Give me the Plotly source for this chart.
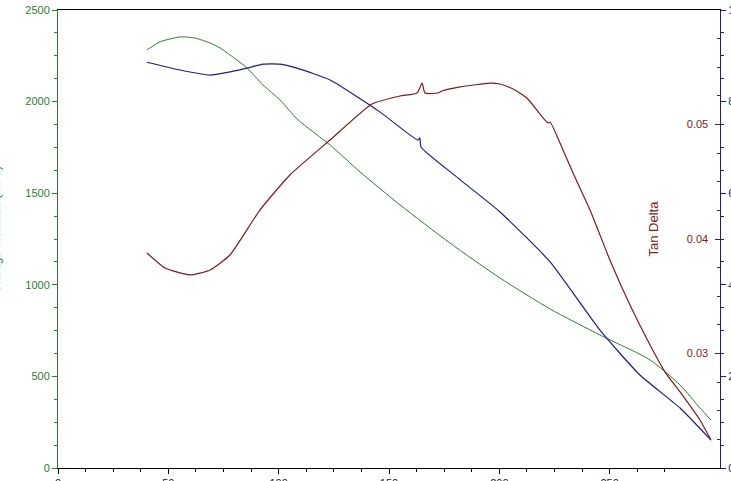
import plotly.graph_objects as go

# Storage modulus (left axis, MPa)
storage_temp = [40.3, 46.2, 55.3, 62.1, 68.9, 73.4, 81.1, 85.6, 92.9, 100.6, 108.8,
                123.3, 136.9, 155.0, 177.6, 200.3, 223.0, 245.6, 268.3, 281.9, 290.9, 295.9]
storage_mod = [2282, 2326, 2353, 2347, 2320, 2293, 2227, 2184, 2091, 2009, 1900,
               1763, 1616, 1436, 1228, 1037, 868, 726, 590, 453, 328, 262]

# Loss modulus (right axis, MPa)
loss_temp = [40.3, 55.3, 68.9, 78.0, 85.6, 92.9, 100.6, 108.3, 123.3, 146.0,
             163.1, 164.0, 164.5, 181.3, 200.3, 223.0, 245.6, 263.7, 281.9, 295.9]
loss_mod = [88.6, 86.9, 85.8, 86.5, 87.3, 88.2, 88.2, 87.3, 84.7, 77.7,
            71.6, 72.1, 70.1, 63.3, 55.9, 45.0, 30.1, 20.3, 13.1, 6.1]

# Tan delta (second right axis)
tan_temp = [40.3, 48.5, 59.8, 68.9, 77.9, 91.5, 105.1, 123.3, 142.3, 155.0, 162.7,
            165.0, 166.3, 172.2, 174.0, 182.2, 195.8, 200.3, 206.2, 212.5, 219.8,
            222.1, 223.0, 227.5, 233.4, 241.1, 250.1, 259.2, 268.3, 275.1, 281.9,
            290.9, 295.9]
tan_delta = [0.03878, 0.03747, 0.03686, 0.03729, 0.0386, 0.04253, 0.04559, 0.04865,
             0.05179, 0.05249, 0.05275, 0.05362, 0.05275, 0.05275, 0.05293, 0.05328,
             0.05362, 0.05354, 0.0531, 0.05231, 0.05057, 0.05013, 0.05022, 0.04838,
             0.04576, 0.04253, 0.03817, 0.03424, 0.03074, 0.02838, 0.02664, 0.02419,
             0.02245]

GREEN = "#2e7d2e"
BLUE = "#1c1c86"
BROWN = "#7a1c1c"
FONT = "Liberation Sans, Arial, sans-serif"

fig = go.Figure()
fig.add_trace(go.Scatter(x=storage_temp, y=storage_mod, mode="lines",
                         line=dict(color=GREEN, width=1, shape="spline", smoothing=0.6),
                         name="Storage Modulus"))
fig.add_trace(go.Scatter(x=loss_temp, y=loss_mod, mode="lines", yaxis="y2",
                         line=dict(color=BLUE, width=1.2, shape="spline", smoothing=0.5),
                         name="Loss Modulus"))
fig.add_trace(go.Scatter(x=tan_temp, y=tan_delta, mode="lines", yaxis="y3",
                         line=dict(color=BROWN, width=1.2, shape="spline", smoothing=0.5),
                         name="Tan Delta"))

fig.update_layout(
    width=731,
    height=481,
    margin=dict(l=58, r=11, t=10, b=13, autoexpand=False),
    paper_bgcolor="white",
    plot_bgcolor="white",
    showlegend=False,
    font=dict(family=FONT, size=11),
    xaxis=dict(
        range=[0, 300], dtick=50, showgrid=False, zeroline=False, automargin=False,
        showline=True, linecolor="black", linewidth=1, mirror=True,
        ticks="outside", ticklen=5, tickcolor="black",
        minor=dict(dtick=12.5, ticks="outside", ticklen=3, tickcolor="black"),
        tickfont=dict(color="#222222", size=11),
    ),
    yaxis=dict(
        range=[0, 2500], dtick=500, showgrid=False, zeroline=False, automargin=False,
        showline=True, linecolor=GREEN, linewidth=1,
        ticks="outside", ticklen=5, tickcolor=GREEN,
        minor=dict(dtick=125, ticks="outside", ticklen=3, tickcolor=GREEN),
        tickfont=dict(color=GREEN, size=11),
    ),
    yaxis2=dict(
        range=[0, 100], dtick=20, overlaying="y", side="right", anchor="x",
        showgrid=False, zeroline=False, automargin=False,
        showline=True, linecolor=BLUE, linewidth=1,
        ticks="outside", ticklen=5, tickcolor=BLUE,
        minor=dict(dtick=5, ticks="outside", ticklen=3, tickcolor=BLUE),
        tickfont=dict(color=BLUE, size=11),
    ),
    yaxis3=dict(
        range=[0.02, 0.06], overlaying="y", side="right", anchor="x",
        tickmode="array", tickvals=[0.03, 0.04, 0.05],
        ticktext=["0.03", "0.04", "0.05"],
        showgrid=False, zeroline=False, showline=False, automargin=False,
        ticks="inside", ticklen=5, tickcolor="#333333",
        ticklabelposition="inside", ticklabelstandoff=6,
        minor=dict(tickmode="array",
                   tickvals=[0.0225, 0.025, 0.0275, 0.0325, 0.035, 0.0375,
                             0.0425, 0.045, 0.0475, 0.0525, 0.055, 0.0575],
                   ticks="inside", ticklen=3, tickcolor="#333333"),
        tickfont=dict(color=BROWN, size=11),
    ),
    annotations=[
        dict(text="Tan Delta", xref="paper", yref="paper", x=0.914, y=0.522,
             textangle=-90, showarrow=False, font=dict(color=BROWN, size=13)),
        # left axis title sits mostly beyond the window edge, as in the source
        dict(text="Storage Modulus (MPa)", xref="paper", yref="paper",
             x=-0.0876, xanchor="right", xshift=5, y=0.52, textangle=-90,
             showarrow=False, font=dict(color=GREEN, size=12)),
    ],
)

# page body has an 8px default margin; drop it so the figure sits at the window corner
fig.write_html("out.html", config={"displayModeBar": False},
               post_script="document.body.style.margin='0px';")
